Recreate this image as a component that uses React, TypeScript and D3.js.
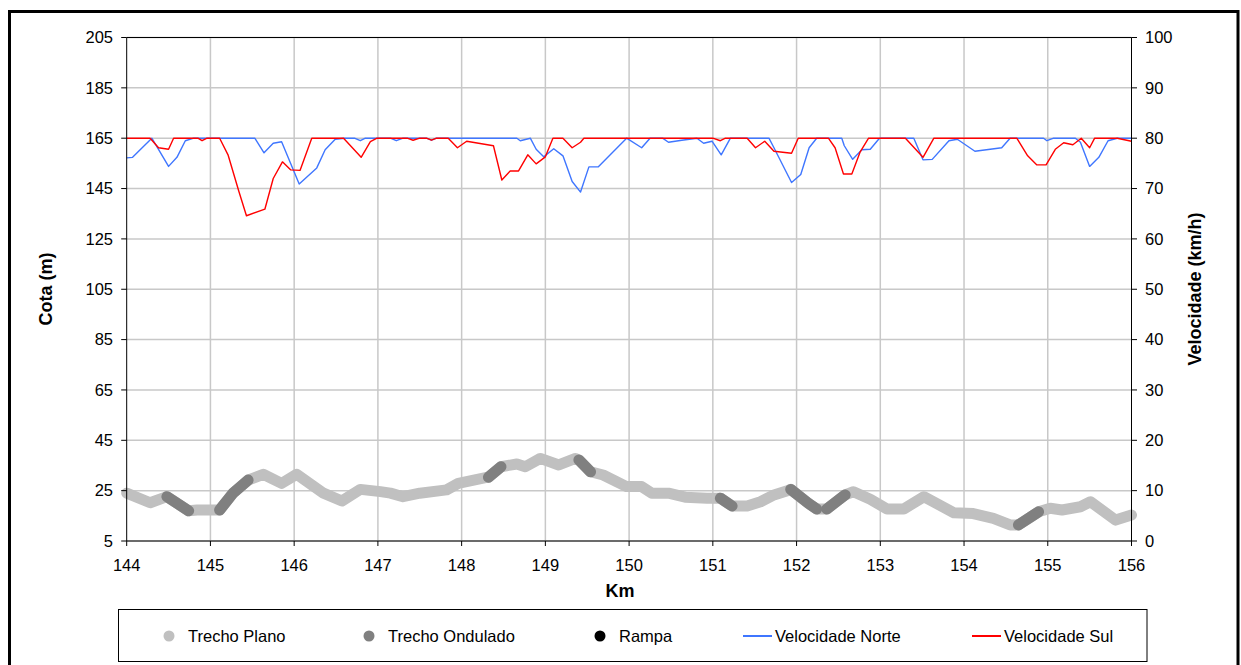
import React from "react";
import * as d3 from "d3";

// ---- Data ----
const kmTicks = [144, 145, 146, 147, 148, 149, 150, 151, 152, 153, 154, 155, 156];
const cotaTicks = [5, 25, 45, 65, 85, 105, 125, 145, 165, 185, 205];
const velTicks = [0, 10, 20, 30, 40, 50, 60, 70, 80, 90, 100];

// Elevation profile (km, cota m, type of segment starting at point: P = plano, O = ondulado)
const cotaKm = [144.0, 144.28, 144.48, 144.74, 144.84, 145.08, 145.11, 145.27, 145.45, 145.63, 145.85, 146.03, 146.35, 146.57, 146.79, 147.03, 147.15, 147.3, 147.5, 147.82, 147.96, 148.3, 148.32, 148.47, 148.66, 148.76, 148.94, 149.16, 149.36, 149.4, 149.54, 149.69, 149.97, 150.15, 150.27, 150.47, 150.67, 150.93, 151.09, 151.23, 151.41, 151.57, 151.73, 151.89, 151.93, 152.14, 152.24, 152.36, 152.58, 152.68, 152.88, 153.08, 153.28, 153.52, 153.88, 154.11, 154.35, 154.55, 154.65, 154.89, 155.03, 155.17, 155.39, 155.51, 155.81, 156.0];
const cotaVal = [24, 20.2, 22.6, 17.0, 17.3, 17.3, 17.3, 24, 29.2, 31.5, 27.9, 31.5, 24, 20.9, 25.5, 24.6, 24, 22.6, 24, 25.3, 27.9, 30.3, 30.3, 34.5, 35.6, 34.5, 37.8, 35.2, 37.8, 37.2, 32.5, 31.2, 26.6, 26.6, 24, 24, 22.4, 22, 22, 18.9, 18.9, 20.6, 23.3, 25, 25.5, 20, 17.7, 17.7, 23.3, 24.6, 21.6, 17.7, 17.7, 22.6, 16.2, 15.9, 14.0, 11.4, 11.4, 16.6, 18, 17.3, 18.6, 20.6, 13.3, 15.3];
const cotaTipo = ["P", "P", "O", "P", "P", "P", "O", "O", "P", "P", "P", "P", "P", "P", "P", "P", "P", "P", "P", "P", "P", "P", "O", "P", "P", "P", "P", "P", "P", "O", "P", "P", "P", "P", "P", "P", "P", "P", "O", "P", "P", "P", "P", "P", "O", "O", "P", "O", "P", "P", "P", "P", "P", "P", "P", "P", "P", "P", "O", "P", "P", "P", "P", "P", "P", "P"];

// Velocidade Norte (km/h)
const norteKm = [144.0, 144.07, 144.3, 144.5, 144.6, 144.7, 144.8, 145.53, 145.64, 145.75, 145.85, 146.06, 146.27, 146.37, 146.49, 146.6, 146.72, 146.79, 146.85, 147.15, 147.22, 147.3, 147.58, 147.64, 147.7, 148.66, 148.7, 148.82, 148.89, 148.98, 149.1, 149.21, 149.32, 149.42, 149.52, 149.63, 149.97, 150.15, 150.25, 150.4, 150.47, 150.63, 150.81, 150.89, 150.99, 151.1, 151.21, 151.67, 151.73, 151.94, 152.05, 152.15, 152.24, 152.54, 152.57, 152.67, 152.78, 152.88, 152.98, 153.0, 153.4, 153.51, 153.62, 153.82, 153.92, 154.13, 154.45, 154.55, 154.95, 154.99, 155.07, 155.33, 155.39, 155.5, 155.61, 155.72, 155.83, 156.0];
const norteVel = [76.1, 76.2, 80, 74.4, 76.2, 79.5, 80, 80, 77.1, 79, 79.3, 70.9, 74.1, 77.7, 79.8, 80, 80, 79.5, 80, 80, 79.5, 80, 80, 79.6, 80, 80, 79.5, 80, 77.8, 76.3, 77.9, 76.5, 71.4, 69.3, 74.3, 74.3, 80, 78.1, 80, 80, 79.2, 79.6, 80, 79, 79.4, 76.7, 80, 80, 78.1, 71.2, 72.8, 78.1, 80, 80, 78.5, 75.8, 77.7, 77.8, 79.8, 80, 80, 75.7, 75.8, 79.5, 79.8, 77.4, 78.1, 80, 80, 79.5, 80, 80, 79.2, 74.4, 76.2, 79.5, 80, 80];

// Velocidade Sul (km/h)
const sulKm = [144.0, 144.28, 144.38, 144.5, 144.56, 144.85, 144.9, 144.96, 145.11, 145.21, 145.34, 145.43, 145.65, 145.75, 145.86, 145.96, 146.07, 146.21, 146.59, 146.8, 146.91, 146.99, 147.35, 147.42, 147.5, 147.58, 147.64, 147.7, 147.84, 147.95, 148.06, 148.38, 148.48, 148.58, 148.68, 148.79, 148.89, 149.0, 149.09, 149.21, 149.32, 149.42, 149.46, 151.0, 151.09, 151.15, 151.41, 151.51, 151.62, 151.73, 151.94, 152.02, 152.38, 152.46, 152.56, 152.66, 152.76, 152.86, 153.3, 153.51, 153.64, 154.63, 154.76, 154.87, 154.98, 155.09, 155.19, 155.3, 155.4, 155.5, 155.56, 155.83, 156.0];
const sulVel = [80, 80, 78.1, 77.8, 80, 80, 79.5, 80, 80, 76.7, 69.4, 64.6, 65.9, 72, 75.3, 73.7, 73.6, 80, 80, 76.2, 79.3, 80, 80, 79.6, 80, 80, 79.6, 80, 80, 78.1, 79.4, 78.5, 71.7, 73.5, 73.5, 76.7, 74.9, 76.3, 80, 80, 78.1, 79.2, 80, 80, 79.5, 80, 80, 78.1, 79.4, 77.4, 77.0, 80, 80, 78.1, 72.9, 72.9, 77.3, 80, 80, 76.2, 80, 80, 76.5, 74.7, 74.7, 77.8, 79.1, 78.7, 80, 78.1, 80, 80, 79.4];

const legendItems = [
  { label: "Trecho Plano", kind: "dot", color: "#c0c0c0" },
  { label: "Trecho Ondulado", kind: "dot", color: "#808080" },
  { label: "Rampa", kind: "dot", color: "#000000" },
  { label: "Velocidade Norte", kind: "line", color: "#3f76ff" },
  { label: "Velocidade Sul", kind: "line", color: "#ff0000" },
];

// ---- Layout ----
const W = 1241;
const H = 665;
const L = 126.7, R = 1131.5, T = 37.5, B = 541;
const FONT = "Arial, 'Liberation Sans', sans-serif";

export default function App() {
  const x = d3.scaleLinear().domain([144, 156]).range([L, R]);
  const yL = d3.scaleLinear().domain([5, 205]).range([B, T]);
  const yR = d3.scaleLinear().domain([0, 100]).range([B, T]);

  const cotaPts: [number, number][] = cotaKm.map((k, i) => [k, cotaVal[i]]);
  const cotaLine = d3.line<[number, number]>().x((d) => x(d[0])).y((d) => yL(d[1]));

  // ondulado runs
  const runs: [number, number][][] = [];
  let cur: [number, number][] | null = null;
  for (let i = 0; i < cotaPts.length - 1; i++) {
    if (cotaTipo[i] === "O") {
      if (!cur) { cur = [cotaPts[i]]; }
      cur.push(cotaPts[i + 1]);
    } else if (cur) {
      runs.push(cur);
      cur = null;
    }
  }
  if (cur) runs.push(cur);

  const velLine = d3.line<[number, number]>().x((d) => x(d[0])).y((d) => yR(d[1]));
  const nortePts: [number, number][] = norteKm.map((k, i) => [k, norteVel[i]]);
  const sulPts: [number, number][] = sulKm.map((k, i) => [k, sulVel[i]]);

  const legendX = [169, 369, 600, 743, 972];

  return (
    <svg width={W} height={H} style={{ position: "absolute", left: 0, top: 0, background: "#fff" }} fontFamily={FONT}>
      <rect x={0} y={0} width={W} height={H} fill="#fff" />
      {/* outer frame */}
      <rect x={9.5} y={11.5} width={1228.5} height={700} fill="none" stroke="#000" strokeWidth={3} />

      {/* gridlines */}
      {cotaTicks.map((t) => (
        <line key={"h" + t} x1={L} x2={R} y1={yL(t)} y2={yL(t)} stroke="#c8c8c8" strokeWidth={1.5} />
      ))}
      {kmTicks.slice(1, -1).map((t) => (
        <line key={"v" + t} x1={x(t)} x2={x(t)} y1={T} y2={B} stroke="#c8c8c8" strokeWidth={1.5} />
      ))}
      <line x1={L} x2={R} y1={T} y2={T} stroke="#000" strokeWidth={1} />

      {/* elevation */}
      <path d={cotaLine(cotaPts) || ""} fill="none" stroke="#c0c0c0" strokeWidth={11} strokeLinecap="round" strokeLinejoin="round" />
      {runs.map((r, i) => (
        <path key={"o" + i} d={cotaLine(r) || ""} fill="none" stroke="#808080" strokeWidth={11} strokeLinecap="round" strokeLinejoin="round" />
      ))}

      {/* speeds */}
      <path d={velLine(nortePts) || ""} fill="none" stroke="#3f76ff" strokeWidth={1.4} strokeLinejoin="round" />
      <path d={velLine(sulPts) || ""} fill="none" stroke="#ff0000" strokeWidth={1.4} strokeLinejoin="round" />

      {/* axes */}
      <line x1={L} x2={L} y1={T} y2={B} stroke="#000" strokeWidth={1} />
      <line x1={R} x2={R} y1={T} y2={B} stroke="#000" strokeWidth={1} />
      <line x1={L} x2={R} y1={B} y2={B} stroke="#000" strokeWidth={1} />
      {cotaTicks.map((t) => (
        <g key={"lt" + t}>
          <line x1={L - 5.5} x2={L} y1={yL(t)} y2={yL(t)} stroke="#000" strokeWidth={1} />
          <text x={113} y={yL(t)} dy="0.35em" textAnchor="end" fontSize={16.5} fill="#000">{t}</text>
        </g>
      ))}
      {velTicks.map((t) => (
        <g key={"rt" + t}>
          <line x1={R} x2={R + 5.5} y1={yR(t)} y2={yR(t)} stroke="#000" strokeWidth={1} />
          <text x={1145} y={yR(t)} dy="0.35em" textAnchor="start" fontSize={16.5} fill="#000">{t}</text>
        </g>
      ))}
      {kmTicks.map((t) => (
        <g key={"bt" + t}>
          <line x1={x(t)} x2={x(t)} y1={B} y2={B + 5} stroke="#000" strokeWidth={1} />
          <text x={x(t)} y={571} textAnchor="middle" fontSize={16.5} fill="#000">{t}</text>
        </g>
      ))}

      {/* axis titles */}
      <text x={620} y={597} textAnchor="middle" fontSize={18} fontWeight="bold">Km</text>
      <text transform="translate(46,289) rotate(-90)" textAnchor="middle" dy="0.35em" fontSize={18} fontWeight="bold">Cota (m)</text>
      <text transform="translate(1195,289) rotate(-90)" textAnchor="middle" dy="0.35em" fontSize={18} fontWeight="bold">Velocidade (km/h)</text>

      {/* legend */}
      <rect x={118.5} y={609.5} width={1028.5} height={52} fill="#fff" stroke="#000" strokeWidth={1} />
      {legendItems.map((it, i) => (
        <g key={it.label}>
          {it.kind === "dot" ? (
            <>
              <circle cx={legendX[i]} cy={636} r={5.5} fill={it.color} />
              <text x={legendX[i] + 19} y={636} dy="0.35em" fontSize={16.5}>{it.label}</text>
            </>
          ) : (
            <>
              <line x1={legendX[i]} x2={legendX[i] + 29} y1={636} y2={636} stroke={it.color} strokeWidth={2} />
              <text x={legendX[i] + 32} y={636} dy="0.35em" fontSize={16.5}>{it.label}</text>
            </>
          )}
        </g>
      ))}
    </svg>
  );
}
